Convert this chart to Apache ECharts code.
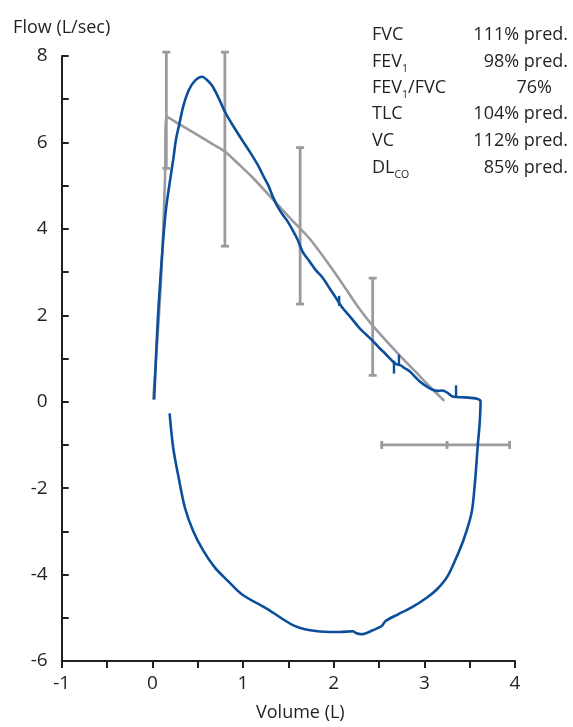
<!DOCTYPE html>
<html><head><meta charset="utf-8">
<script src="https://cdn.jsdelivr.net/npm/echarts@6/dist/echarts.min.js"></script>
<style>html,body{margin:0;padding:0;background:#fff}#c{width:573px;height:727px}</style>
</head><body><div id="c"></div>
<script>
// Measured flow-volume loop (Volume L, Flow L/sec), in drawing order
const measuredLoop = [
  [0.02,0.05],[0.04,1.0],[0.06,1.9],[0.09,2.9],[0.12,3.76],[0.15,4.45],[0.19,5.05],[0.23,5.6],
  [0.26,6.06],[0.30,6.45],[0.34,6.83],[0.40,7.2],[0.47,7.43],[0.55,7.52],[0.60,7.45],[0.66,7.31],
  [0.73,7.03],[0.80,6.71],[0.88,6.42],[0.97,6.12],[1.07,5.8],[1.16,5.49],[1.23,5.2],[1.28,5.0],
  [1.33,4.74],[1.38,4.52],[1.44,4.32],[1.49,4.18],[1.55,3.96],[1.60,3.76],[1.66,3.46],[1.74,3.23],
  [1.80,3.05],[1.87,2.89],[1.96,2.61],[2.02,2.42],[2.09,2.19],[2.18,1.97],[2.29,1.69],[2.36,1.55],
  [2.43,1.41],[2.50,1.25],[2.57,1.11],[2.63,0.98],[2.68,0.88],[2.74,0.84],[2.78,0.78],[2.84,0.70],
  [2.95,0.47],[3.06,0.31],[3.14,0.25],[3.20,0.26],[3.26,0.2],[3.31,0.12],[3.45,0.1],[3.58,0.07],
  [3.62,0.01],[3.61,-0.5],[3.59,-0.99],[3.56,-1.83],[3.53,-2.46],[3.50,-2.75],[3.43,-3.21],
  [3.34,-3.67],[3.25,-4.06],[3.14,-4.34],[3.03,-4.53],[2.86,-4.76],[2.71,-4.92],[2.57,-5.08],
  [2.53,-5.19],[2.43,-5.29],[2.31,-5.38],[2.25,-5.36],[2.21,-5.31],[2.07,-5.33],[1.96,-5.33],
  [1.74,-5.29],[1.55,-5.17],[1.27,-4.80],[0.99,-4.46],[0.83,-4.14],[0.69,-3.84],[0.56,-3.44],
  [0.45,-2.99],[0.36,-2.46],[0.29,-1.76],[0.23,-1.07],[0.19,-0.27]
];
// Predicted expiratory curve
const predictedCurve = [
  [0.01,0.05],[0.04,1.0],[0.07,1.9],[0.10,3.0],[0.12,4.0],[0.14,5.2],[0.155,6.6],[0.3,6.42],
  [0.5,6.17],[0.65,5.98],[0.8,5.79],[0.95,5.5],[1.1,5.2],[1.33,4.68],[1.55,4.18],[1.74,3.76],
  [1.96,3.14],[2.09,2.75],[2.25,2.25],[2.43,1.76],[2.72,1.09],[2.9,0.7],[3.06,0.35],[3.22,0.02]
];
// Vertical error bars: [volume, low flow, high flow]
const verticalRanges = [[0.154,5.40,8.09],[0.80,3.60,8.09],[1.63,2.26,5.88],[2.43,0.61,2.86]];
// Horizontal error bar: [flow, left volume, centre volume, right volume]
const horizontalRanges = [[-1.0,2.53,3.25,3.94]];
// Small markers on measured curve: [volume, flow from, flow to]
const curveMarks = [[2.06,2.22,2.45],[2.665,0.65,0.95],[2.72,0.84,1.09],[3.35,0.12,0.38]];
// Axis tick labels
const xTickLabels = [-1,0,1,2,3,4];
const yTickLabels = [-6,-4,-2,0,2,4,6,8];
// Results panel
const statNames = ['FVC','FEV','FEV','TLC','VC','DL'];
const statSubs = ['','1','1','','','CO'];
const statTails = ['','','/FVC','','',''];
const statValues = ['111% pred.','98% pred.','76%','104% pred.','112% pred.','85% pred.'];

const BLUE = '#0b4f9c', GRAY = '#9b9b9f', INK = '#231f20';
const FONT = '"Open Sans", "Noto Sans", sans-serif';

function vBar(params, api) {
  const x = api.value(0), lo = api.value(1), hi = api.value(2);
  const a = api.coord([x, lo]), b = api.coord([x, hi]);
  const c = 4, st = {stroke: GRAY, lineWidth: 2.8};
  return {type: 'group', children: [
    {type: 'line', shape: {x1: a[0], y1: a[1], x2: b[0], y2: b[1]}, style: st},
    {type: 'line', shape: {x1: a[0]-c, y1: a[1], x2: a[0]+c, y2: a[1]}, style: st},
    {type: 'line', shape: {x1: b[0]-c, y1: b[1], x2: b[0]+c, y2: b[1]}, style: st}
  ]};
}
function hBar(params, api) {
  const y = api.value(0);
  const l = api.coord([api.value(1), y]), m = api.coord([api.value(2), y]), r = api.coord([api.value(3), y]);
  const c = 4, st = {stroke: GRAY, lineWidth: 2.8};
  return {type: 'group', children: [
    {type: 'line', shape: {x1: l[0], y1: l[1], x2: r[0], y2: r[1]}, style: st},
    {type: 'line', shape: {x1: l[0], y1: l[1]-c, x2: l[0], y2: l[1]+c}, style: st},
    {type: 'line', shape: {x1: m[0], y1: m[1]-c, x2: m[0], y2: m[1]+c}, style: st},
    {type: 'line', shape: {x1: r[0], y1: r[1]-c, x2: r[0], y2: r[1]+c}, style: st}
  ]};
}
function markSeg(params, api) {
  const x = api.value(0);
  const a = api.coord([x, api.value(1)]), b = api.coord([x, api.value(2)]);
  return {type: 'line', shape: {x1: a[0], y1: a[1], x2: b[0], y2: b[1]}, style: {stroke: BLUE, lineWidth: 2.4}};
}

const graphics = [];
const rowY = [35, 61.7, 87.5, 114, 140.7, 167.7];
statNames.forEach((n, i) => {
  let txt = '{n|' + n + '}';
  if (statSubs[i]) txt += '{s|' + statSubs[i] + '}';
  if (statTails[i]) txt += '{n|' + statTails[i] + '}';
  graphics.push({type: 'text', style: {
    text: txt, x: 372, y: rowY[i], fill: INK,
    textAlign: 'left', align: 'left', textVerticalAlign: 'middle', verticalAlign: 'middle',
    rich: {
      n: {fontSize: 18, fontFamily: FONT, lineHeight: 26, verticalAlign: 'middle', fill: INK},
      s: {fontSize: 10.5, fontFamily: FONT, lineHeight: 12, verticalAlign: 'bottom', fill: INK}
    }
  }});
  const rx = statValues[i] === '76%' ? 552 : 568;
  graphics.push({type: 'text', style: {
    text: statValues[i], x: rx, y: rowY[i], textAlign: 'right', align: 'right',
    textVerticalAlign: 'middle', verticalAlign: 'middle',
    fontSize: 18, fontFamily: FONT, fill: INK
  }});
});

const chart = echarts.init(document.getElementById('c'));
chart.setOption({
  animation: false,
  backgroundColor: '#fff',
  grid: {left: 61.7, right: 58, top: 56, bottom: 63},
  xAxis: {
    type: 'value', min: -1, max: 4, interval: 0.5,
    name: 'Volume (L)', nameLocation: 'middle', nameGap: 52,
    nameTextStyle: {fontSize: 18, fontFamily: FONT, color: INK, verticalAlign: 'middle', padding: [0, 0, 0, 24]},
    axisLine: {onZero: false, lineStyle: {color: INK, width: 2}},
    axisTick: {length: 7, lineStyle: {color: INK, width: 2}},
    axisLabel: {margin: 13, fontSize: 19, fontFamily: FONT, color: INK,
      formatter: v => xTickLabels.indexOf(v) >= 0 ? String(v) : ''},
    splitLine: {show: false}
  },
  yAxis: {
    type: 'value', min: -6, max: 8, interval: 1,
    name: 'Flow (L/sec)', nameLocation: 'end', nameGap: 28,
    nameTextStyle: {fontSize: 18, fontFamily: FONT, color: INK, verticalAlign: 'middle', align: 'center'},
    axisLine: {show: true, onZero: false, lineStyle: {color: INK, width: 2}},
    axisTick: {show: true, inside: true, length: 7, lineStyle: {color: INK, width: 2}},
    axisLabel: {margin: 14, fontSize: 19, fontFamily: FONT, color: INK,
      formatter: v => yTickLabels.indexOf(v) >= 0 ? String(v) : ''},
    splitLine: {show: false}
  },
  graphic: graphics,
  series: [
    {type: 'line', data: predictedCurve, symbol: 'none', smooth: 0.3,
     lineStyle: {color: GRAY, width: 2.6}, z: 2},
    {type: 'custom', renderItem: vBar, data: verticalRanges, z: 3},
    {type: 'custom', renderItem: hBar, data: horizontalRanges, z: 3},
    {type: 'line', data: measuredLoop, symbol: 'none', smooth: 0.3,
     lineStyle: {color: BLUE, width: 2.6}, z: 4},
    {type: 'custom', renderItem: markSeg, data: curveMarks, z: 5}
  ]
});
</script></body></html>
